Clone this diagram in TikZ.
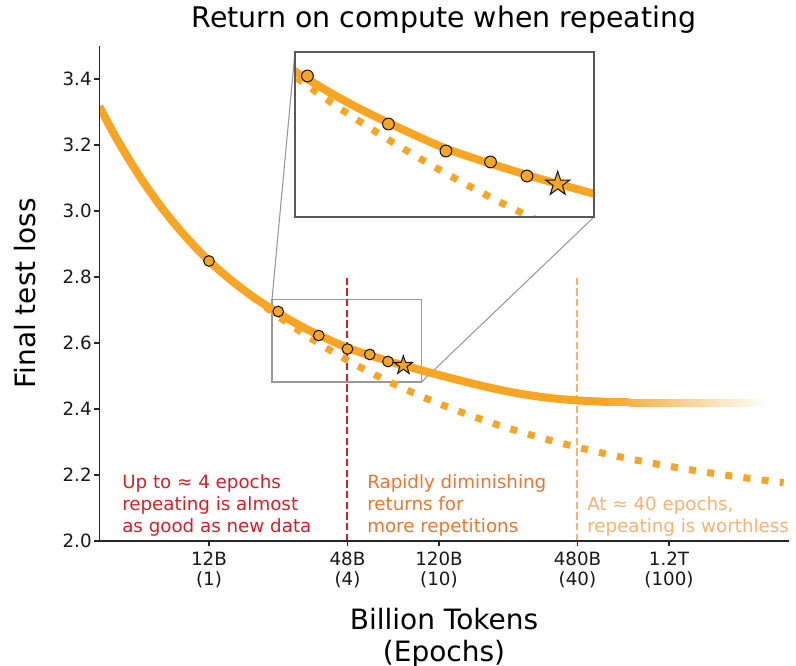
\documentclass[tikz,border=0pt]{standalone}
\usepackage{fontspec}
\setmainfont{DejaVu Sans}
\usetikzlibrary{shapes.geometric}
\definecolor{curveorange}{RGB}{247,165,35}
\definecolor{epochred}{RGB}{218,30,40}
\definecolor{diminorange}{RGB}{236,118,50}
\definecolor{worthlessorange}{RGB}{248,178,115}
\newcommand{\tickfont}{\fontsize{13.7}{15}\selectfont}
\newcommand{\notefont}{\fontsize{13.7}{16.5}\selectfont}
\newcommand{\axisfont}{\fontsize{21}{24}\selectfont}
\newcommand{\titlefont}{\fontsize{21.3}{24}\selectfont}
\newcommand{\repeatcurve}{plot[smooth] coordinates {(-0.4771,3.317) (-0.4,3.217) (-0.3,3.103) (-0.2,3.005) (-0.1,2.921) (0,2.8485) (0.1,2.788) (0.2,2.736) (0.3,2.691) (0.4,2.651) (0.5,2.617) (0.6,2.586) (0.7,2.5625) (0.8,2.541) (0.9,2.5216) (1.0,2.503) (1.1,2.485) (1.2,2.468) (1.3,2.453) (1.4,2.441) (1.5,2.432) (1.6,2.426) (1.7,2.4225) (1.7217,2.4219)}}
\newcommand{\newdatacurve}{plot[domain=0:2.5, samples=100] (\x,{2.08+0.771*exp(-0.83*\x)})}
\tikzset{
  spine/.style={black!85, line width=0.8pt},
  ticklabel/.style={inner sep=0pt, font=\tickfont, black!90},
  repeatline/.style={curveorange, line width=6pt},
  newdataline/.style={curveorange, line width=5.25pt, dash pattern=on 5.25pt off 8.5pt},
  epochmark/.style={circle, draw=black!90, fill=curveorange, line width=0.8pt, minimum size=8pt, inner sep=0pt},
  beststar/.style={star, star points=5, star point ratio=2.6, draw=black!90, fill=curveorange, line width=0.8pt, minimum size=14.6pt, inner sep=0pt},
  guide/.style={line width=1.5pt, dash pattern=on 5.5pt off 2.5pt},
  zoomlink/.style={black!40, line width=0.8pt},
  insetframe/.style={black!65, line width=0.8pt},
  note/.style={font=\notefont, align=left, anchor=south west, inner sep=0pt}
}
\begin{document}
\begin{tikzpicture}[x=172.5pt, y=247.5pt]
\useasboundingbox (-0.9087,1.6212) rectangle (2.5522,3.6394);
\fill[white] (-0.9087,1.6212) rectangle (2.5522,3.6394);

\coordinate (zoomsw) at (0.2739,2.4818);
\coordinate (zoomne) at (0.9239,2.7318);
\coordinate (zoomnw) at (0.2739,2.7318);
\coordinate (zoomse) at (0.9239,2.4818);
\coordinate (insetsw) at (0.3739,2.9818);
\coordinate (insetne) at (1.6739,3.4818);
\coordinate (insetnw) at (0.3739,3.4818);
\coordinate (insetse) at (1.6739,2.9818);
\draw[zoomlink] (zoomsw) rectangle (zoomne);
\draw[zoomlink] (zoomnw) -- (insetnw);
\draw[zoomlink] (zoomse) -- (insetse);

\coordinate (redlow) at (0.60206,2);
\coordinate (redtop) at (0.60206,2.8);
\coordinate (palelow) at (1.60206,2);
\coordinate (paletop) at (1.60206,2.8);
\draw[guide, epochred] (redlow) -- (redtop);
\draw[guide, worthlessorange] (palelow) -- (paletop);

\begin{scope}
\clip (-0.4771,2) rectangle (2.5229,3.5);
\draw[newdataline] \newdatacurve;
\draw[repeatline] \repeatcurve;
\foreach \k in {0,...,53} {
  \pgfmathsetmacro{\ua}{(605+3*\k-209)/230}
  \pgfmathsetmacro{\ub}{(608+3*\k-209)/230}
  \pgfmathsetmacro{\fadeop}{1-(\k+0.5)/54}
  \pgfmathsetmacro{\lv}{2.417+0.0055*exp(-6*(\ua-1.7))}
  \fill[curveorange, opacity=\fadeop] ([yshift=-3pt]\ua,\lv) rectangle ([yshift=3pt]\ub,\lv);
}
\end{scope}

\foreach \n/\l in {1/2.8485,2/2.6955,3/2.6227,4/2.5818,5/2.5652,6/2.5439}
  \node[epochmark] (run\n) at ({log10(\n)},\l) {};
\node[beststar] (best) at ({log10(7)},2.5318) {};

\coordinate (origin) at (-0.4771,2);
\coordinate (ytop) at (-0.4771,3.5);
\coordinate (xend) at (2.5229,2);
\draw[spine] (ytop) -- (origin) -- (xend);
\foreach \yv [count=\i] in {2.0,2.2,2.4,2.6,2.8,3.0,3.2,3.4} {
  \draw[spine] (-0.4771,\yv) -- ++(-3.75pt,0);
  \node[ticklabel, anchor=east, xshift=-5.5pt] (ylab\i) at (-0.4771,\yv) {\yv};
}
\foreach \xv/\xlab/\xep [count=\i] in {0/12B/1,0.60206/48B/4,1/120B/10,1.60206/480B/40,2/1.2T/100} {
  \draw[spine] (\xv,2) -- ++(0,-3.75pt);
  \node[ticklabel, align=center, anchor=north, yshift=-8pt] (xlab\i) at (\xv,2) {\xlab\\(\xep)};
}

\node[note, epochred] (noteA) at (-0.3783,2.0142) {Up to ≈ 4 epochs\\repeating is almost\\as good as new data};
\node[note, diminorange] (noteB) at (0.6870,2.0142) {Rapidly diminishing\\returns for\\more repetitions};
\node[note, worthlessorange] (noteC) at (1.6435,2.0142) {At ≈ 40 epochs,\\repeating is worthless};

\fill[white] (insetsw) rectangle (insetne);
\begin{scope}[shift={(-0.1739,-1.9818)}, scale=2]
\clip (0.2739,2.4818) rectangle (0.9239,2.7318);
\draw[newdataline] \newdatacurve;
\draw[repeatline] \repeatcurve;
\foreach \n/\l in {2/2.6955,3/2.6227,4/2.5818,5/2.5652,6/2.5439}
  \node[epochmark, minimum size=8.8pt] (zoomrun\n) at ({log10(\n)},\l) {};
\node[beststar, minimum size=19pt] (zoombest) at ({log10(7)},2.5318) {};
\end{scope}
\draw[insetframe] (insetsw) rectangle (insetne);

\node[font=\titlefont, anchor=base] (title) at (1.0217,3.5567) {Return on compute when repeating};
\node[font=\axisfont, align=center, anchor=north, inner sep=0pt] (xlabel) at (1.0217,1.7985) {Billion Tokens\\(Epochs)};
\node[font=\axisfont, rotate=90, anchor=base] (ylabel) at (-0.7522,2.75) {Final test loss};
\end{tikzpicture}
\end{document}
